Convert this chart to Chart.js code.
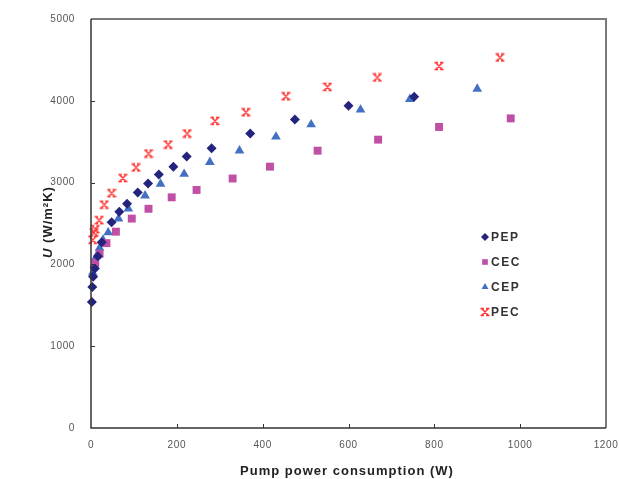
<!DOCTYPE html>
<html>
<head>
<meta charset="utf-8">
<script src="https://cdn.jsdelivr.net/npm/chart.js@4/dist/chart.umd.min.js"></script>
<style>
    html, body { margin: 0; padding: 0; background: #fff; }
    canvas { display: block; }
</style>
</head>
<body>
<canvas id="chart" width="619" height="479"></canvas>
<script>
// Overall heat transfer coefficient vs pump power, four tube configurations.

const X_TICKS = [0, 200, 400, 600, 800, 1000, 1200];
const Y_TICKS = [0, 1000, 2000, 3000, 4000, 5000];

const pepPower = [2, 3, 5, 9, 16, 25, 48, 66, 84, 109, 133, 158, 192, 223, 281, 371, 475, 600, 753];
const pepU     = [1540, 1725, 1850, 1950, 2100, 2270, 2515, 2645, 2740, 2880, 2990, 3100, 3195, 3320, 3420, 3600, 3770, 3940, 4050];

const cecPower = [10, 20, 36, 58, 95, 134, 188, 246, 330, 417, 528, 669, 811, 978];
const cecU     = [2020, 2130, 2260, 2400, 2560, 2680, 2820, 2910, 3050, 3195, 3390, 3525, 3680, 3785];

const cepPower = [4, 8, 13, 20, 28, 40, 64, 87, 126, 162, 217, 277, 346, 431, 513, 628, 743, 900];
const cepU     = [1900, 2000, 2100, 2200, 2300, 2390, 2560, 2680, 2840, 2985, 3105, 3250, 3390, 3560, 3710, 3890, 4020, 4145];

const pecPower = [4, 7, 10, 19, 31, 48, 74, 105, 134, 180, 224, 289, 361, 454, 551, 667, 811, 953];
const pecU     = [2300, 2390, 2430, 2540, 2730, 2870, 3055, 3185, 3355, 3465, 3600, 3755, 3860, 4055, 4170, 4285, 4425, 4530];

const COLORS = {
    pep: "#24247e",
    cec: "#c04fa6",
    cep: "#4370c2",
    pec: "#ff3535",
};

const FONT = "Arial, 'Liberation Sans', sans-serif";

// Star marker: an X with short serifs at its four tips
function starMarker(color, size) {
    const c = document.createElement("canvas");
    c.width = size;
    c.height = size;
    const g = c.getContext("2d");
    const a = 1.5, b = size - 1.5, s = 2.5;
    g.strokeStyle = color;
    g.lineWidth = 1.5;
    g.lineCap = "butt";
    g.beginPath();
    g.moveTo(a, a); g.lineTo(b, b);
    g.moveTo(b, a); g.lineTo(a, b);
    g.moveTo(a - 1, a); g.lineTo(a + s, a);
    g.moveTo(b + 1, a); g.lineTo(b - s, a);
    g.moveTo(a - 1, b); g.lineTo(a + s, b);
    g.moveTo(b + 1, b); g.lineTo(b - s, b);
    g.stroke();
    return c;
}

function toPoints(xs, ys) {
    return xs.map((x, i) => ({ x, y: ys[i] }));
}

function series(label, xs, ys, color, style, radius) {
    return {
        label,
        data: toPoints(xs, ys),
        backgroundColor: color,
        borderColor: color,
        borderWidth: 0,
        pointStyle: style,
        pointRadius: radius,
        pointHoverRadius: radius,
        showLine: false,
        clip: false,
    };
}

// Frame, inside tick marks, axis titles and the in-plot legend
const decorations = {
    id: "decorations",
    beforeDraw(chart) {
        chart.ctx.letterSpacing = "0.6px";
    },
    afterDraw(chart) {
        const ctx = chart.ctx;
        const { left, right, top, bottom } = chart.chartArea;
        const xs = chart.scales.x, ys = chart.scales.y;
        ctx.save();

        // top and right border
        ctx.strokeStyle = "#7a7a7a";
        ctx.lineWidth = 2;
        ctx.beginPath();
        ctx.moveTo(left, top);
        ctx.lineTo(right, top);
        ctx.lineTo(right, bottom);
        ctx.stroke();

        // axis lines
        ctx.strokeStyle = "#333";
        ctx.lineWidth = 1.5;
        ctx.beginPath();
        ctx.moveTo(left, top);
        ctx.lineTo(left, bottom);
        ctx.lineTo(right, bottom);
        ctx.stroke();

        // inside ticks
        ctx.lineWidth = 1;
        ctx.beginPath();
        X_TICKS.slice(1, -1).forEach(v => {
            const px = Math.round(xs.getPixelForValue(v)) + 0.5;
            ctx.moveTo(px, bottom);
            ctx.lineTo(px, bottom - 4);
        });
        Y_TICKS.slice(1, -1).forEach(v => {
            const py = Math.round(ys.getPixelForValue(v)) + 0.5;
            ctx.moveTo(left, py);
            ctx.lineTo(left + 4, py);
        });
        ctx.stroke();

        // x title
        ctx.fillStyle = "#222";
        ctx.letterSpacing = "1px";
        ctx.font = "bold 13px " + FONT;
        ctx.textAlign = "center";
        ctx.textBaseline = "alphabetic";
        ctx.fillText("Pump power consumption (W)", 347, 475);

        // y title, italic U
        ctx.save();
        ctx.translate(52, 222);
        ctx.rotate(-Math.PI / 2);
        const uPart = "U";
        const rest = " (W/m\u00B2K)";
        ctx.font = "italic bold 13px " + FONT;
        const w1 = ctx.measureText(uPart).width;
        ctx.font = "bold 13px " + FONT;
        const w2 = ctx.measureText(rest).width;
        const x0 = -(w1 + w2) / 2;
        ctx.textAlign = "left";
        ctx.font = "italic bold 13px " + FONT;
        ctx.fillText(uPart, x0, 0);
        ctx.font = "bold 13px " + FONT;
        ctx.fillText(rest, x0 + w1, 0);
        ctx.restore();

        // legend
        ctx.letterSpacing = "1.5px";
        ctx.font = "bold 12px " + FONT;
        ctx.textAlign = "left";
        ctx.textBaseline = "middle";
        chart.data.datasets.forEach((ds, i) => {
            const y = 237 + i * 25;
            const style = ds.pointStyle;
            ctx.fillStyle = ds.backgroundColor;
            ctx.strokeStyle = ds.borderColor;
            if (style instanceof HTMLCanvasElement) {
                ctx.drawImage(style, 485 - style.width / 2, y - style.height / 2);
            } else {
                Chart.helpers.drawPoint(ctx, { pointStyle: style, radius: 4, rotation: 0, borderWidth: 0 }, 485, y);
            }
            ctx.fillStyle = "#333";
            ctx.fillText(ds.label, 491, y + 1);
        });

        ctx.restore();
        ctx.letterSpacing = "0px";
    },
};

const datasets = [
    series("PEP", pepPower, pepU, COLORS.pep, "rectRot", 5),
    series("CEC", cecPower, cecU, COLORS.cec, "rect", 5.6),
    series("CEP", cepPower, cepU, COLORS.cep, "triangle", 5.6),
    series("PEC", pecPower, pecU, COLORS.pec, starMarker(COLORS.pec, 10), 5),
];

const tickFont = { family: FONT, size: 10 };

new Chart(document.getElementById("chart").getContext("2d"), {
    type: "scatter",
    data: { datasets },
    options: {
        responsive: false,
        animation: false,
        events: [],
        layout: { padding: { left: 0, right: 13, top: 19, bottom: 0 } },
        plugins: {
            legend: { display: false },
            tooltip: { enabled: false },
        },
        scales: {
            x: {
                type: "linear",
                min: 0,
                max: 1200,
                afterBuildTicks: s => { s.ticks = X_TICKS.map(v => ({ value: v })); },
                ticks: {
                    font: tickFont,
                    color: "#555",
                    padding: 11,
                    maxRotation: 0,
                    autoSkip: false,
                    callback: v => String(v),
                },
                grid: { display: false, drawTicks: false },
                border: { display: false },
                afterFit: s => {
                    s.height = 51;
                    s.paddingLeft = 0;
                    s.paddingRight = 0;
                },
            },
            y: {
                type: "linear",
                min: 0,
                max: 5000,
                afterBuildTicks: s => { s.ticks = Y_TICKS.map(v => ({ value: v })); },
                ticks: {
                    font: tickFont,
                    color: "#555",
                    padding: 16,
                    callback: v => String(v),
                },
                grid: { display: false, drawTicks: false },
                border: { display: false },
                afterFit: s => {
                    s.width = 91;
                    s.paddingTop = 0;
                    s.paddingBottom = 0;
                },
            },
        },
    },
    plugins: [decorations],
});
</script>
</body>
</html>
